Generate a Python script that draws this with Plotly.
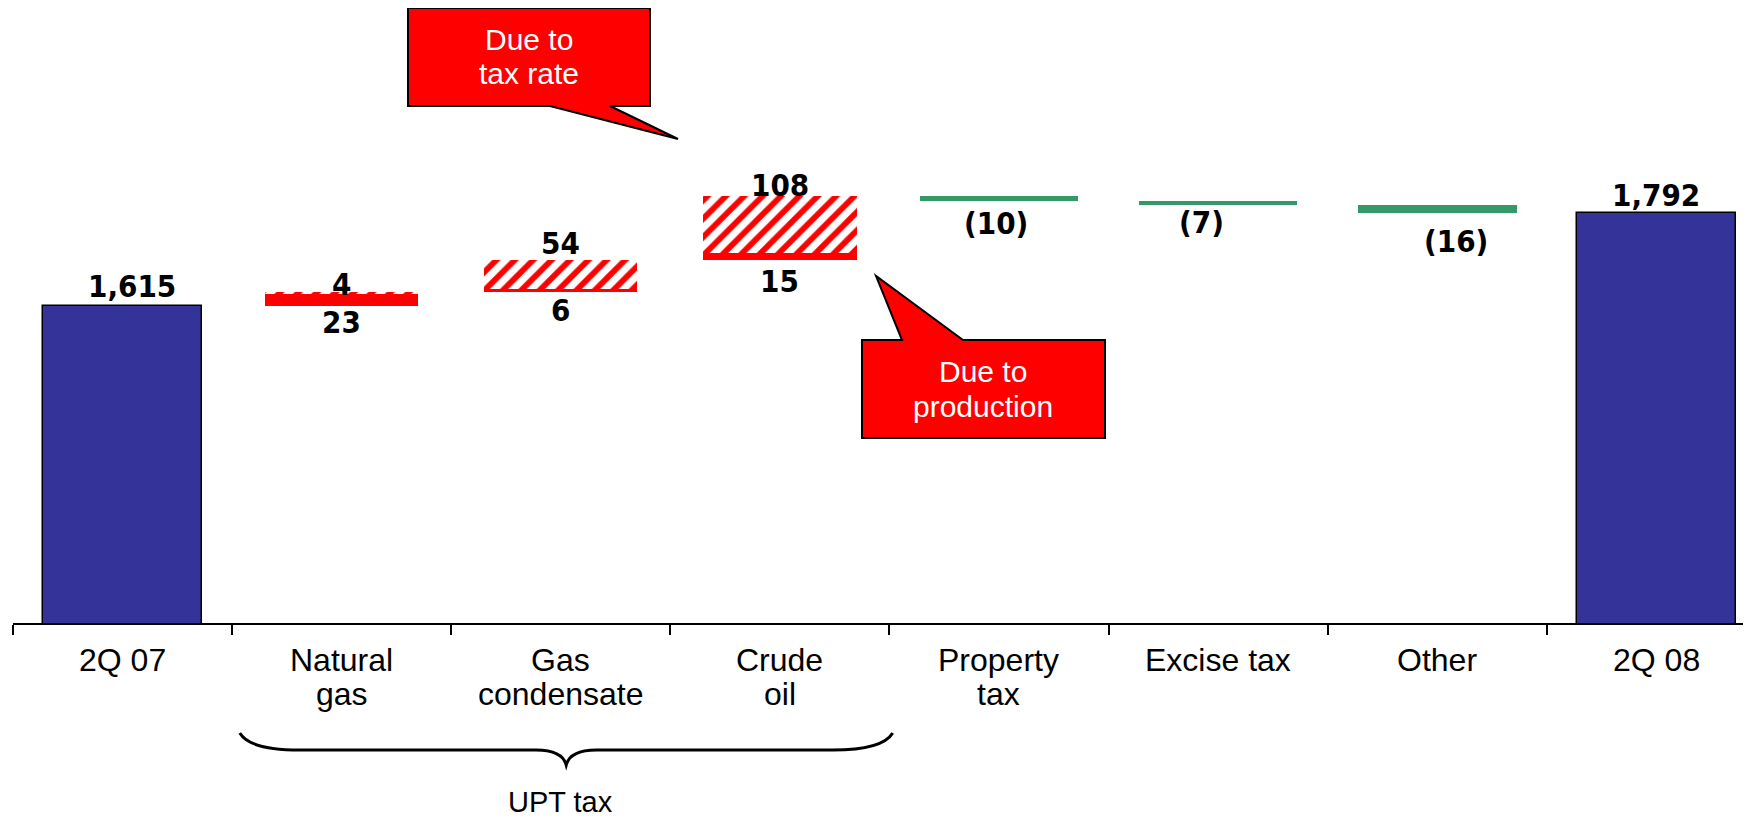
import plotly.graph_objects as go

# ---------------- data ----------------
categories = ["2Q 07", "Natural gas", "Gas condensate", "Crude oil",
              "Property tax", "Excise tax", "Other", "2Q 08"]
tick_lines = [["2Q 07"], ["Natural", "gas"], ["Gas", "condensate"], ["Crude", "oil"],
              ["Property", "tax"], ["Excise tax"], ["Other"], ["2Q 08"]]
total_cats = ["2Q 07", "2Q 08"]
total_values = [1615, 1792]
upt_cats = ["Natural gas", "Gas condensate", "Crude oil"]
production = [23, 6, 15]
tax_rate = [4, 54, 108]
other_cats = ["Property tax", "Excise tax", "Other"]
other_changes = [-10, -7, -16]
group_label = "UPT tax"
callout_rate = ["Due to", "tax rate"]
callout_prod = ["Due to", "production"]

# ---------------- derived bases ----------------
running = total_values[0]
prod_base, rate_base = [], []
for p, r in zip(production, tax_rate):
    prod_base.append(running); running += p
    rate_base.append(running); running += r
other_base = []
for c in other_changes:
    other_base.append(running); running += c

def fmt(v):
    return f"({abs(v):,})" if v < 0 else f"{v:,}"

# ---------------- layout geometry ----------------
OFF = 8                      # default page body margin
W, H = 1751 - OFF, 818 - OFF
ML, MR, MT = 13 - OFF, 0, 0
AXIS_Y = 623                 # page px of the axis line
PH = AXIS_Y - OFF - MT
MB = H - MT - PH
PW = W - ML - MR
Y0 = 1012
PX_PER_UNIT = 0.5254
Y1 = Y0 + PH / PX_PER_UNIT
CAT_W = 219.1
X0, X1 = -0.5, -0.5 + PW / CAT_W

def xp(px):
    return (px - OFF - ML) / PW

def yp(py):
    return (PH + MT - (py - OFF)) / PH

def cat_px(i):
    return OFF + ML + (i + 0.5) * CAT_W

BLUE = "#333399"
RED = "#FF0000"
GREEN = "#339966"
VAL_FONT = dict(family="DejaVu Sans Condensed, DejaVu Sans, sans-serif", size=31,
                color="black", weight="bold")
CAT_FONT = dict(family="Liberation Sans, Arial, sans-serif", size=32, color="black")
CALL_FONT = dict(family="Liberation Sans, Arial, sans-serif", size=30, color="white")

fig = go.Figure()

fig.add_trace(go.Bar(x=total_cats, y=total_values, base=[0, 0], width=0.725,
                     marker=dict(color=BLUE, line=dict(color="black", width=1.5)),
                     hoverinfo="skip"))
fig.add_trace(go.Bar(x=upt_cats, y=production, base=prod_base, width=0.70,
                     marker=dict(color=RED, line=dict(width=0)), hoverinfo="skip"))
fig.add_trace(go.Bar(x=upt_cats, y=tax_rate, base=rate_base, width=0.70,
                     marker=dict(color="white", line=dict(width=0),
                                 pattern=dict(shape="/", fgcolor=RED, bgcolor="white",
                                              size=13, solidity=0.45, fillmode="replace")),
                     hoverinfo="skip"))
fig.add_trace(go.Bar(x=other_cats, y=other_changes, base=other_base, width=0.725,
                     marker=dict(color=GREEN, line=dict(width=0)), hoverinfo="skip"))

ann = []
# total labels
tot_shift = [(9, 20.5), (0, 18.5)]
for c, v, (dx, dy) in zip(total_cats, total_values, tot_shift):
    ann.append(dict(x=c, y=v, text=fmt(v), xshift=dx, yshift=dy))
# tax-rate labels above, production labels below
rate_shift = [8, 17.5, 10.5]
prod_shift = [-15.5, -17.5, -20.5]
for c, pb, p, rb, r, rs, ps in zip(upt_cats, prod_base, production, rate_base, tax_rate,
                                   rate_shift, prod_shift):
    ann.append(dict(x=c, y=rb + r, text=fmt(r), yshift=rs))
    ann.append(dict(x=c, y=pb, text=fmt(p), yshift=ps))
# negative labels below
oth_shift = [(-3, -21.5), (-17, -17.5), (19, -27.5)]
for c, b, v, (dx, dy) in zip(other_cats, other_base, other_changes, oth_shift):
    ann.append(dict(x=c, y=b + v, text=fmt(v), xshift=dx, yshift=dy))
for a in ann:
    a.update(xref="x", yref="y", showarrow=False, xanchor="center", yanchor="middle",
             font=VAL_FONT)

# category labels
for c, lines in zip(categories, tick_lines):
    for j, t in enumerate(lines):
        ann.append(dict(x=c, xref="x", y=yp(660 + 34 * j), yref="paper", text=t,
                        showarrow=False, xanchor="center", yanchor="middle", font=CAT_FONT))

# brace under UPT categories
i_first = categories.index(upt_cats[0])
i_last = categories.index(upt_cats[-1])
xl = cat_px(i_first) - 0.465 * CAT_W
xr = cat_px(i_last) + 0.515 * CAT_W
xm = (xl + xr) / 2
yt, yl, ytip = 733, 750, 765
pts = [("M", [(xl, yt)]),
       ("Q", [(xl + 10, yl), (xl + 60, yl)]),
       ("L", [(xm - 30, yl)]),
       ("Q", [(xm - 4, yl), (xm, ytip)]),
       ("Q", [(xm + 4, yl), (xm + 30, yl)]),
       ("L", [(xr - 60, yl)]),
       ("Q", [(xr - 10, yl), (xr, yt)])]
brace = " ".join(cmd + " " + " ".join(f"{xp(x):.5f},{yp(y):.5f}" for x, y in p) for cmd, p in pts)
shapes = [dict(type="path", xref="paper", yref="paper", path=brace,
               line=dict(color="black", width=3), fillcolor="rgba(0,0,0,0)")]
ann.append(dict(x=upt_cats[1], xref="x", y=yp(802), yref="paper", text=group_label,
                showarrow=False, xanchor="center", yanchor="middle",
                font=dict(family="Liberation Sans, Arial, sans-serif", size=29, color="black")))

# callouts
def poly(points):
    return "M " + " L ".join(f"{xp(x):.5f},{yp(y):.5f}" for x, y in points) + " Z"

bubble_rate = [(408, 8), (650, 8), (650, 106), (610, 106), (678, 139), (550, 106), (408, 106)]
bubble_prod = [(862, 340), (902, 340), (876, 276), (963, 340), (1105, 340), (1105, 438), (862, 438)]
for b in (bubble_rate, bubble_prod):
    shapes.append(dict(type="path", xref="paper", yref="paper", path=poly(b),
                       fillcolor=RED, line=dict(color="black", width=2), layer="above"))
for lines, cx, cys in ((callout_rate, 529, [39, 73]), (callout_prod, 983.5, [372, 406])):
    for t, cy in zip(lines, cys):
        ann.append(dict(x=xp(cx), xref="paper", y=yp(cy), yref="paper", text=t,
                        showarrow=False, xanchor="center", yanchor="middle", font=CALL_FONT))

fig.update_layout(
    width=W, height=H, autosize=False,
    margin=dict(l=ML, r=MR, t=MT, b=MB, pad=0, autoexpand=False),
    paper_bgcolor="white", plot_bgcolor="white",
    barmode="overlay", bargap=0, showlegend=False,
    annotations=ann, shapes=shapes,
    xaxis=dict(type="category", categoryorder="array", categoryarray=categories,
               range=[X0, X1], showline=True, linecolor="black", linewidth=2,
               ticks="outside", ticklen=10, tickwidth=2, tickcolor="black",
               tickson="boundaries", showticklabels=False, showgrid=False, zeroline=False),
    yaxis=dict(range=[Y0, Y1], visible=False, showgrid=False, zeroline=False),
)

fig.write_html("out.html")
